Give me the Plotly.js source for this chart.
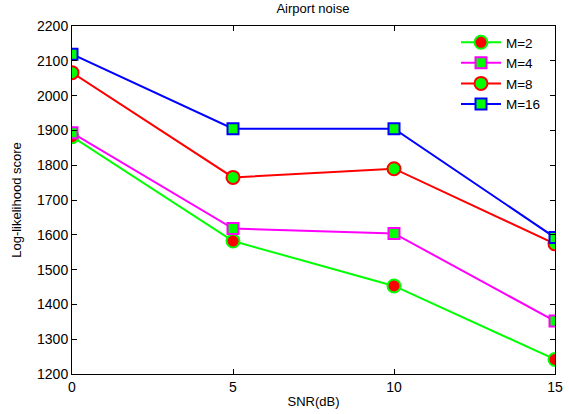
<!DOCTYPE html>
<html>
<head>
<meta charset="utf-8">
<script src="https://cdn.plot.ly/plotly-3.0.1.min.js"></script>
<style>
  html, body { margin: 0; padding: 0; background: #fff; }
  #chart { width: 569px; height: 414px; }
</style>
</head>
<body>
<div id="chart"></div>
<script>
// SNR levels (dB) on the x axis
const snr = [0, 5, 10, 15];

// Log-likelihood scores per mixture count
const scoreM2  = [1882, 1582, 1453, 1242];
const scoreM4  = [1893, 1618, 1604, 1352];
const scoreM8  = [2066, 1765, 1790, 1574];
const scoreM16 = [2119, 1905, 1905, 1592];

const seriesNames = ['M=2', 'M=4', 'M=8', 'M=16'];

const font = 'Liberation Sans, Arial, sans-serif';

function series(name, y, lineColor, symbol, fill, size) {
  return {
    x: snr, y: y, name: name, type: 'scatter', mode: 'lines+markers',
    line: { color: lineColor, width: 2 },
    marker: { symbol: symbol, size: size, color: fill,
              line: { color: lineColor, width: 2 } }
  };
}

const traces = [
  series(seriesNames[0], scoreM2,  '#00ff00', 'circle', '#ff0000', 13),
  series(seriesNames[1], scoreM4,  '#ff00ff', 'square', '#00ff00', 11),
  series(seriesNames[2], scoreM8,  '#ff0000', 'circle', '#00ff00', 13),
  series(seriesNames[3], scoreM16, '#0000ff', 'square', '#00ff00', 11)
];

const axisCommon = {
  showline: true, mirror: 'ticks', linecolor: '#000', linewidth: 1,
  ticks: 'inside', ticklen: 5, tickcolor: '#000',
  showgrid: false, zeroline: false,
  tickfont: { family: font, size: 14, color: '#000' }
};

const layout = {
  width: 569, height: 414,
  margin: { l: 72, r: 14, t: 26, b: 40 },
  paper_bgcolor: '#fff', plot_bgcolor: '#fff',
  title: { text: 'Airport noise', font: { family: font, size: 13, color: '#000' },
           x: 0.55, xanchor: 'center', y: 0.99, yanchor: 'top' },
  xaxis: Object.assign({}, axisCommon, {
    range: [0, 15], tickvals: [0, 5, 10, 15],
    title: { text: 'SNR(dB)', font: { family: font, size: 13, color: '#000' }, standoff: 3 }
  }),
  yaxis: Object.assign({}, axisCommon, {
    range: [1200, 2200], dtick: 100,
    title: { text: 'Log-likelihood score', font: { family: font, size: 13, color: '#000' }, standoff: 12 }
  }),
  legend: {
    x: 0.795, y: 0.997, xanchor: 'left', yanchor: 'top',
    bgcolor: '#fff', borderwidth: 0,
    font: { family: font, size: 13.5, color: '#000' },
    itemwidth: 40, tracegroupgap: 0
  },
  showlegend: true
};

Plotly.newPlot('chart', traces, layout, { displayModeBar: false, staticPlot: true });
</script>
</body>
</html>
